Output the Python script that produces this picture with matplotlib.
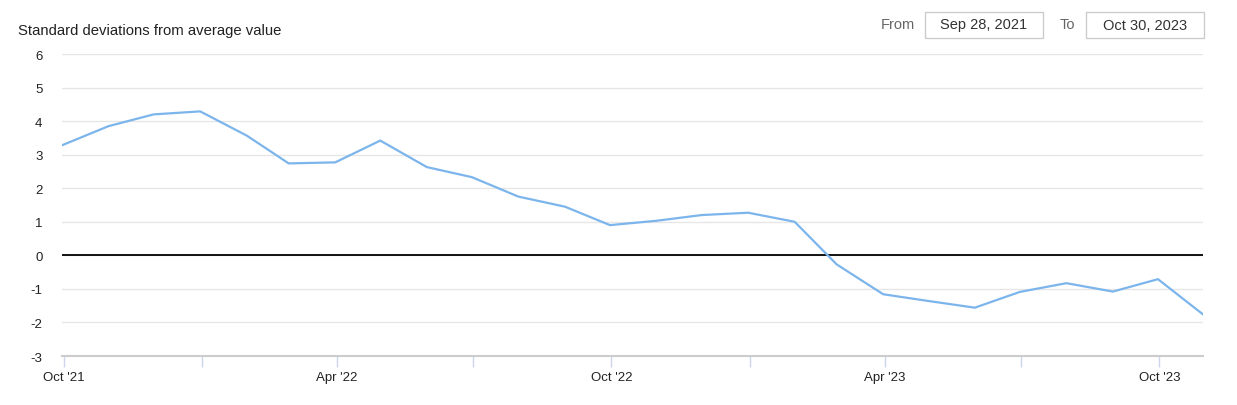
import matplotlib.pyplot as plt
import matplotlib.dates as mdates
from matplotlib.patches import Rectangle
import pandas as pd

plt.rcParams['font.family'] = ['Liberation Sans', 'DejaVu Sans']

# month-end observations, Sep 2021 - Oct 2023
dates = list(pd.date_range('2021-09-30', '2023-09-30', freq='ME')) + [pd.Timestamp('2023-10-30')]
values = [3.28, 3.85, 4.20, 4.29, 3.57, 2.74, 2.77, 3.42, 2.63, 2.33,
          1.75, 1.45, 0.90, 1.03, 1.20, 1.27, 1.00, -0.27, -1.16, -1.36,
          -1.56, -1.09, -0.83, -1.08, -0.71, -1.76]
y_ticks = [-3, -2, -1, 0, 1, 2, 3, 4, 5, 6]
title = "Standard deviations from average value"
date_from = "Sep 28, 2021"
date_to = "Oct 30, 2023"

W, H = 1237, 406
fig = plt.figure(figsize=(W / 100, H / 100), dpi=100)
ax = fig.add_axes([62 / W, 1 - 357 / H, (1203 - 62) / W, (357 - 55) / H])

ax.plot(dates, values, color='#7cb5ec', lw=1.6, zorder=3, solid_joinstyle='round')
ax.axhline(0, color='black', lw=1.3, zorder=2)

ax.set_ylim(-3, 6)
ax.set_yticks(y_ticks)
ax.set_yticklabels([str(v) for v in y_ticks])
ax.grid(axis='y', color='#e6e6e6', lw=1)
ax.set_xlim(dates[0], dates[-1])

ax.xaxis.set_major_locator(mdates.MonthLocator(bymonth=[4, 10]))
ax.xaxis.set_major_formatter(mdates.DateFormatter("%b '%y"))
ax.xaxis.set_minor_locator(mdates.MonthLocator(bymonth=[1, 7]))
ax.tick_params(axis='x', which='both', length=8, width=1, color='#ccd6eb',
               labelsize=9.5, pad=3, labelcolor='#222222')
ax.tick_params(axis='y', length=0, labelsize=9.5, pad=14, labelcolor='#222222')

for s in ['top', 'right', 'left']:
    ax.spines[s].set_visible(False)
ax.spines['bottom'].set_color('#cccccc')
ax.spines['bottom'].set_linewidth(1.5)

fig.text(18 / W, 1 - 31 / H, title, fontsize=10.7, color='#222222', va='center', ha='left')

# date range boxes
fig.text(915 / W, 1 - 25 / H, "From", fontsize=10.5, color='#666666', va='center', ha='right')
fig.text(1075 / W, 1 - 25 / H, "To", fontsize=10.5, color='#666666', va='center', ha='right')
for x0, x1, label in [(925, 1043, date_from), (1086, 1204, date_to)]:
    fig.patches.append(Rectangle((x0 / W, 1 - 39 / H), (x1 - x0) / W, 26 / H,
                                 transform=fig.transFigure, facecolor='white',
                                 edgecolor='#cccccc', lw=1))
    fig.text((x0 + x1) / 2 / W, 1 - 25.5 / H, label, fontsize=10.5, color='#333333',
             va='center', ha='center')

fig.savefig('out.png', dpi=100)
